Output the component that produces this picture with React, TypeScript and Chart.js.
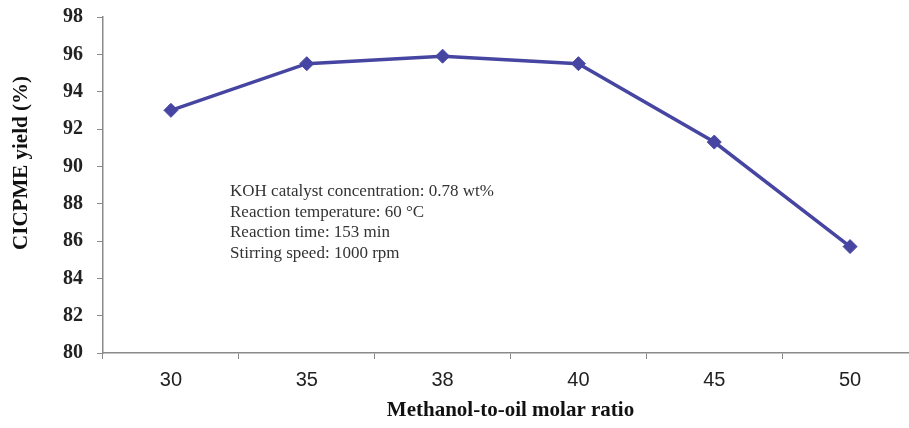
import React, { useEffect, useRef } from "react";
import { Chart, registerables } from "chart.js";

Chart.register(...registerables);

// Methanol-to-oil molar ratio vs. CICPME yield
const ratios = ["30", "35", "38", "40", "45", "50"];
const yields = [93.0, 95.5, 95.9, 95.5, 91.3, 85.7];
const yTicks = { min: 80, max: 98, step: 2 };
const yTitle = "CICPME yield (%)";
const xTitle = "Methanol-to-oil molar ratio";
const conditions = [
  "KOH catalyst concentration: 0.78 wt%",
  "Reaction temperature: 60 \u00B0C",
  "Reaction time: 153 min",
  "Stirring speed: 1000 rpm",
];

const SERIF = "'Liberation Serif', 'Times New Roman', serif";
const SANS = "'Liberation Sans', Arial, sans-serif";
const LINE = "#4646a2";
const AXIS = "#8a8a8a";

// Reaction-condition note and the rotated y-axis title
const annotations = {
  id: "annotations",
  afterDatasetsDraw(chart: any) {
    const { ctx, chartArea } = chart;
    ctx.save();
    ctx.font = `17px ${SERIF}`;
    ctx.fillStyle = "#333";
    ctx.textBaseline = "middle";
    ctx.textAlign = "left";
    const x = chartArea.left + 127;
    const y0 = chartArea.top + 175;
    conditions.forEach((line, i) => ctx.fillText(line, x, y0 + i * 20.5));

    ctx.translate(22, chartArea.top + 146);
    ctx.rotate(-Math.PI / 2);
    ctx.font = `bold 21px ${SERIF}`;
    ctx.fillStyle = "#111";
    ctx.textAlign = "center";
    ctx.fillText(yTitle, 0, 0);
    ctx.restore();
  },
};

export default function App() {
  const ref = useRef<HTMLCanvasElement>(null);

  useEffect(() => {
    if (!ref.current) return;
    const chart = new Chart(ref.current, {
      type: "line",
      data: {
        labels: ratios,
        datasets: [
          {
            data: yields,
            borderColor: LINE,
            backgroundColor: LINE,
            borderWidth: 3.5,
            pointStyle: "rectRot",
            pointRadius: 7,
            pointBorderWidth: 1,
            pointBackgroundColor: LINE,
            pointBorderColor: LINE,
            tension: 0,
          },
        ],
      },
      options: {
        animation: false,
        responsive: false,
        layout: { padding: { top: 17, right: 12, left: 0, bottom: 0 } },
        plugins: { legend: { display: false }, tooltip: { enabled: false } },
        scales: {
          x: {
            type: "category",
            offset: true,
            grid: {
              offset: true,
              drawOnChartArea: false,
              drawTicks: true,
              tickLength: 6,
              color: AXIS,
            },
            border: { color: AXIS, width: 1.5 },
            ticks: {
              color: "#222",
              padding: 9,
              font: { family: SANS, size: 20 },
            },
            title: {
              display: true,
              text: xTitle,
              color: "#111",
              font: { family: SERIF, size: 21, weight: "bold" },
              padding: { top: 4, bottom: 5 },
            },
            afterFit(scale: any) {
              scale.height = 75;
            },
          },
          y: {
            min: yTicks.min,
            max: yTicks.max,
            ticks: {
              stepSize: yTicks.step,
              color: "#222",
              padding: 14,
              font: { family: SERIF, size: 20, weight: "bold" },
            },
            grid: {
              drawOnChartArea: false,
              drawTicks: true,
              tickLength: 6,
              color: AXIS,
            },
            border: { color: AXIS, width: 1.5 },
            afterFit(scale: any) {
              scale.width = 103;
              scale.paddingTop = 0;
              scale.paddingBottom = 0;
            },
          },
        },
      },
      plugins: [annotations],
    });
    return () => chart.destroy();
  }, []);

  return (
    <div
      style={{
        position: "absolute",
        left: 0,
        top: 0,
        width: 909,
        height: 428,
        overflow: "hidden",
        background: "#fff",
      }}
    >
      <canvas ref={ref} width={930} height={428} style={{ display: "block" }} />
    </div>
  );
}
